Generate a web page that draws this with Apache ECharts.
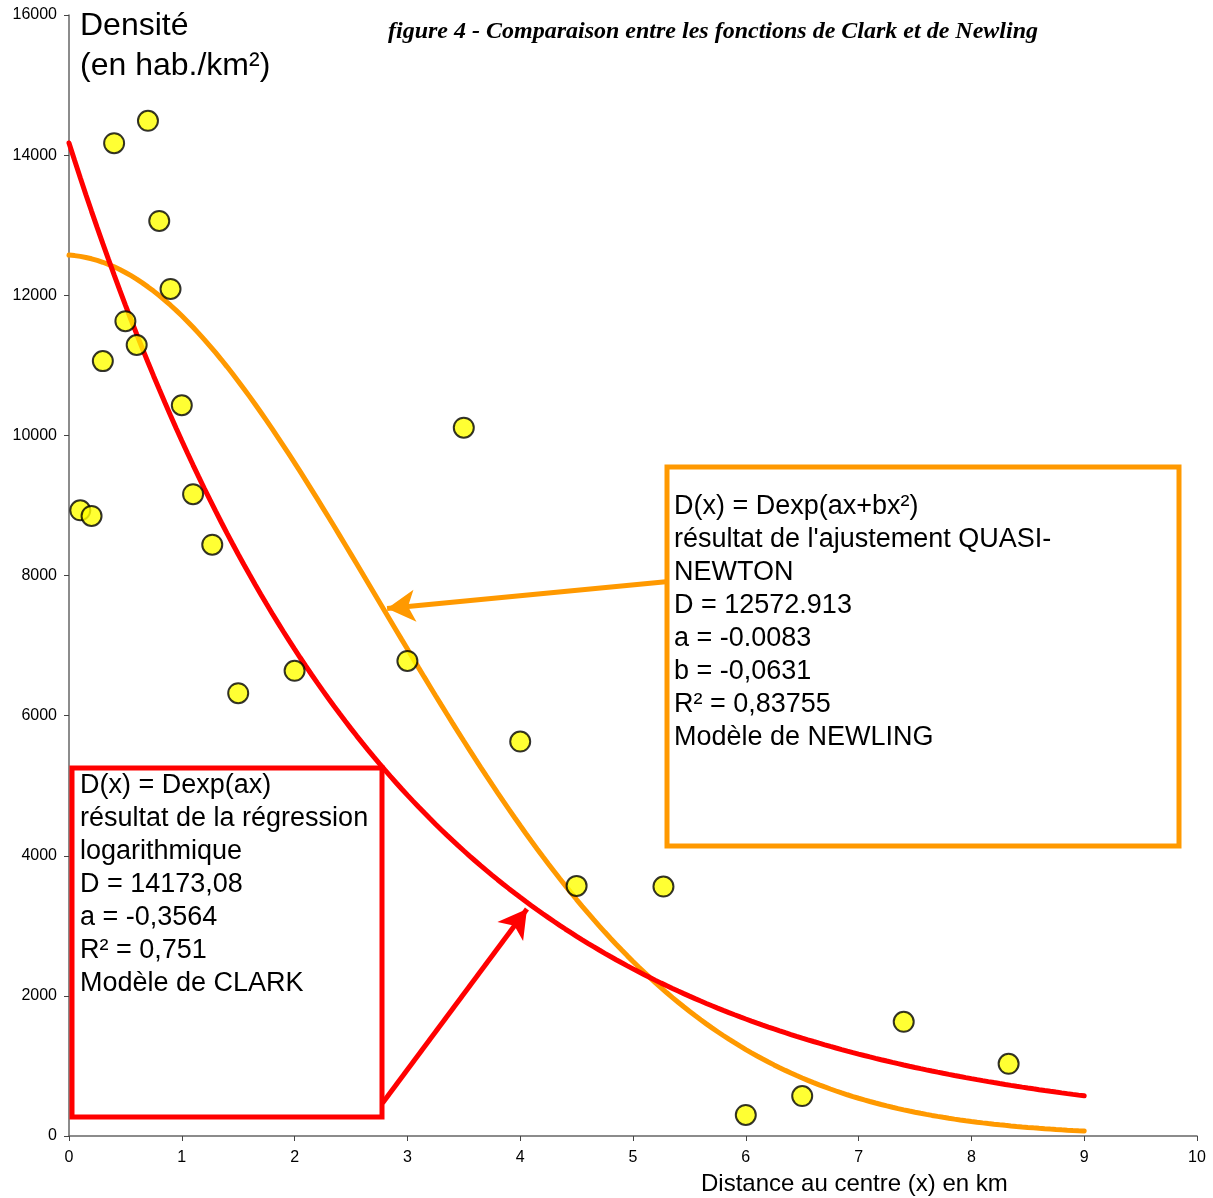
<!DOCTYPE html>
<html>
<head>
<meta charset="utf-8">
<script src="https://cdn.jsdelivr.net/npm/echarts@6/dist/echarts.min.js"></script>
<style>
  html, body { margin: 0; padding: 0; background: #fff; }
  #chart { width: 1213px; height: 1198px; }
</style>
</head>
<body>
<div id="chart"></div>
<script>
// Observed densities (hab./km²) against distance to the centre (km)
const distances = [0.1, 0.2, 0.3, 0.4, 0.5, 0.6, 0.7, 0.8, 0.9, 1.0, 1.1, 1.27, 1.5, 2.0, 3.0, 3.5, 4.0, 4.5, 5.27, 6.0, 6.5, 7.4, 8.33];
const densities = [8930, 8850, 11060, 14170, 11630, 11290, 14490, 13060, 12090, 10430, 9160, 8440, 6320, 6640, 6780, 10110, 5630, 3570, 3560, 300, 570, 1630, 1030];

// Fitted model parameters
const clarkParams = [14173.08, -0.3564];               // D, a
const newlingParams = [12572.913, -0.0083, -0.0631];   // D, a, b
const modelRange = [0, 9];

// Axis ticks
const xTicks = [0, 1, 2, 3, 4, 5, 6, 7, 8, 9, 10];
const yTicks = [0, 2000, 4000, 6000, 8000, 10000, 12000, 14000, 16000];

// Annotation texts
const newlingLines = ["D(x) = Dexp(ax+bx²)", "résultat de l'ajustement QUASI-", "NEWTON", "D = 12572.913", "a = -0.0083", "b = -0,0631", "R² = 0,83755", "Modèle de NEWLING"];
const clarkLines = ["D(x) = Dexp(ax)", "résultat de la régression", "logarithmique", "D = 14173,08", "a = -0,3564", "R² = 0,751", "Modèle de CLARK"];

// Arrow endpoints in data space: [start, tip]
const newlingArrow = [[5.29, 7910], [2.82, 7530]];
const clarkArrow = [[2.78, 470], [4.06, 3240]];

function clark(x) { return clarkParams[0] * Math.exp(clarkParams[1] * x); }
function newling(x) { return newlingParams[0] * Math.exp(newlingParams[1] * x + newlingParams[2] * x * x); }
function sample(fn) {
  const pts = [];
  const n = 180;
  for (let i = 0; i <= n; i++) {
    const x = modelRange[0] + (modelRange[1] - modelRange[0]) * i / n;
    pts.push([x, fn(x)]);
  }
  return pts;
}

const RED = '#ff0000';
const ORANGE = '#ff9900';
const SANS = 'Liberation Sans, Arial, sans-serif';

const chart = echarts.init(document.getElementById('chart'), null, { renderer: 'canvas' });

chart.setOption({
  animation: false,
  backgroundColor: '#ffffff',
  grid: { left: 69, right: 16, top: 15, bottom: 62, containLabel: false },
  xAxis: {
    type: 'value', min: 0, max: 10, interval: 1,
    axisLine: { lineStyle: { color: '#666', width: 1.5 } },
    axisTick: { show: true, length: 5, lineStyle: { color: '#444' } },
    axisLabel: { color: '#000', fontFamily: SANS, fontSize: 16, margin: 14,
      formatter: v => xTicks.includes(v) ? String(v) : '' },
    splitLine: { show: false }
  },
  yAxis: {
    type: 'value', min: 0, max: 16000, interval: 2000,
    axisLine: { show: true, lineStyle: { color: '#666', width: 1.5 } },
    axisTick: { show: true, length: 5, lineStyle: { color: '#444' } },
    axisLabel: { color: '#000', fontFamily: SANS, fontSize: 16, margin: 12,
      formatter: v => yTicks.includes(v) ? String(v) : '' },
    splitLine: { show: false }
  },
  series: [
    {
      name: 'Newling', type: 'line', data: sample(newling), showSymbol: false, smooth: false,
      lineStyle: { color: ORANGE, width: 5, cap: 'round' }, z: 2,
      markLine: {
        silent: true, symbol: ['none', 'arrow'], symbolSize: [24, 28],
        lineStyle: { color: ORANGE, width: 5, type: 'solid' },
        label: { show: false },
        data: [[{ coord: newlingArrow[0] }, { coord: newlingArrow[1] }]]
      }
    },
    {
      name: 'Clark', type: 'line', data: sample(clark), showSymbol: false, smooth: false,
      lineStyle: { color: RED, width: 5, cap: 'round' }, z: 3,
      markLine: {
        silent: true, symbol: ['none', 'arrow'], symbolSize: [24, 28],
        lineStyle: { color: RED, width: 5, type: 'solid' },
        label: { show: false },
        data: [[{ coord: clarkArrow[0] }, { coord: clarkArrow[1] }]]
      }
    },
    {
      name: 'Densité', type: 'scatter', data: distances.map((x, i) => [x, densities[i]]),
      symbol: 'circle', symbolSize: 20,
      itemStyle: { color: '#ffff00', borderColor: '#000', borderWidth: 2 }, z: 5
    }
  ],
  graphic: [
    { type: 'text', left: 80, top: 6, z: 10,
      style: { text: 'Densité\n(en hab./km²)', font: '32px ' + SANS, fill: '#000', lineHeight: 40 } },
    { type: 'text', left: 388, top: 20, z: 10,
      style: { text: 'figure 4 - Comparaison entre les fonctions de Clark et de Newling',
        font: 'italic bold 24px "Liberation Serif", "Times New Roman", serif', fill: '#000' } },
    { type: 'text', left: 701, top: 1172, z: 10,
      style: { text: 'Distance au centre (x) en km', font: '24px ' + SANS, fill: '#000' } },
    { type: 'rect', shape: { x: 667, y: 467, width: 512, height: 379 }, z: 8,
      style: { fill: '#fff', stroke: ORANGE, lineWidth: 5 } },
    { type: 'text', left: 674, top: 490, z: 9,
      style: { text: newlingLines.join('\n'), font: '27px ' + SANS, fill: '#000', lineHeight: 33 } },
    { type: 'rect', shape: { x: 72, y: 768, width: 310, height: 349 }, z: 8,
      style: { fill: '#fff', stroke: RED, lineWidth: 5 } },
    { type: 'text', left: 80, top: 769, z: 9,
      style: { text: clarkLines.join('\n'), font: '27px ' + SANS, fill: '#000', lineHeight: 33 } }
  ]
});
</script>
</body>
</html>
